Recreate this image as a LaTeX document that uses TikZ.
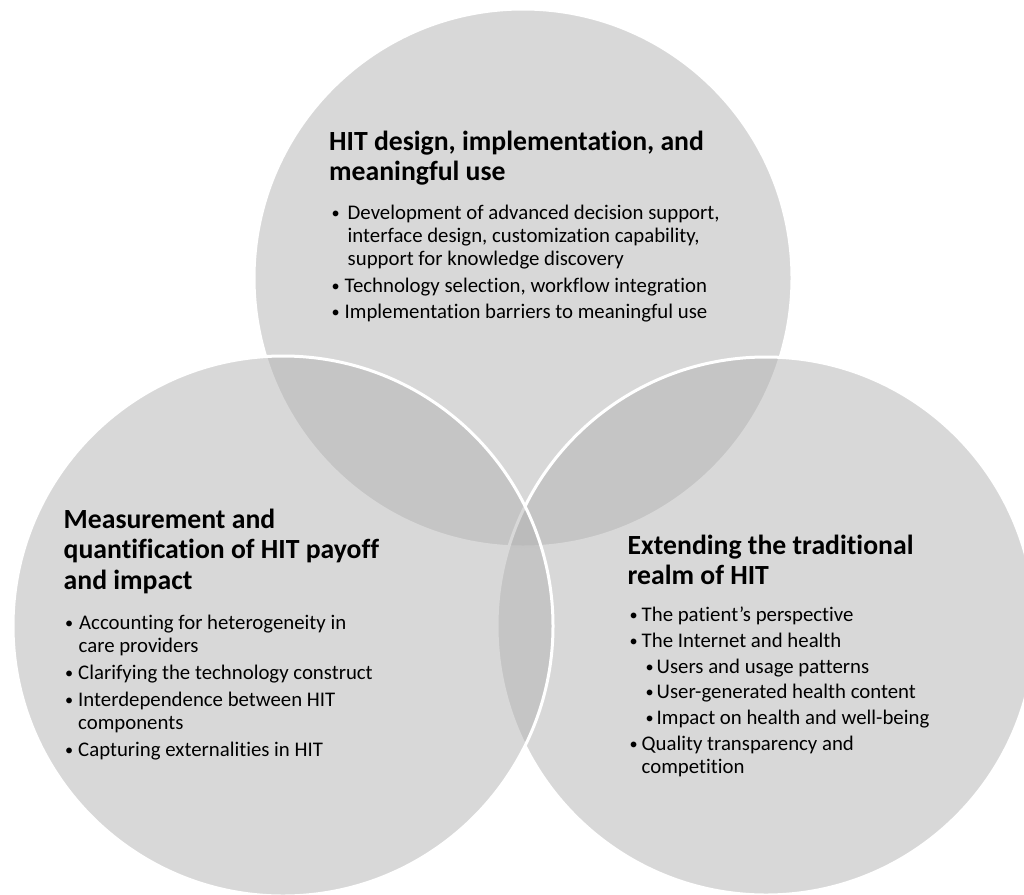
\documentclass[tikz,border=0pt]{standalone}
\usepackage{fontspec}
\usepackage{graphicx}
\setmainfont{Carlito}[Ligatures={NoCommon}]
% small list bullet
\newcommand{\listdot}{\raisebox{0.6pt}{\scalebox{0.78}{•}}}
\begin{document}
\begin{tikzpicture}[x=1pt,y=-1pt,
  venn/.style={fill=vgray,fill opacity=0.5,draw=white,line width=3pt},
  ttl/.style={anchor=base west,inner sep=0pt,font=\bfseries\fontsize{27.7}{30.5}\selectfont},
  txt/.style={anchor=base west,inner sep=0pt,font=\fontsize{20.8}{22.8}\selectfont}]
\definecolor{vgray}{RGB}{178,178,178}
\useasboundingbox (0,0) rectangle (1024,894);
\clip (0,0) rectangle (1024,894);

% circle centres
\coordinate (ctop)   at (523,278);
\coordinate (cright) at (766,626);
\coordinate (cleft)  at (283,626);

% the three sets, painted top, right, left
\path[venn] (ctop) circle[radius=269];
\path[venn] (cright) circle[radius=269];
\path[venn] (cleft) circle[radius=270];

% top set
\node[ttl] (t1) at (329,150) {HIT design, implementation, and};
\node[ttl] (t2) at (329,180.5) {meaningful use};
\node[txt] (t3) at (331.5,219) {\makebox[16pt][l]{\listdot}Development of advanced decision support,};
\node[txt] (t4) at (347.5,242) {interface design, customization capability,};
\node[txt] (t5) at (347.5,265) {support for knowledge discovery};
\node[txt] (t6) at (331.5,292) {\makebox[13pt][l]{\listdot}Technology selection, workflow integration};
\node[txt] (t7) at (331.5,318) {\makebox[13pt][l]{\listdot}Implementation barriers to meaningful use};

% left set
\node[ttl] (l1) at (63.5,528) {Measurement and};
\node[ttl] (l2) at (63.5,558.5) {quantification of HIT payoff};
\node[ttl] (l3) at (63.5,589) {and impact};
\node[txt] (l4) at (65,629.5) {\makebox[14pt][l]{\listdot}Accounting for heterogeneity in};
\node[txt] (l5) at (78.5,652.5) {care providers};
\node[txt] (l6) at (65,679.5) {\makebox[13pt][l]{\listdot}Clarifying the technology construct};
\node[txt] (l7) at (65,706) {\makebox[13pt][l]{\listdot}Interdependence between HIT};
\node[txt] (l8) at (78,729) {components};
\node[txt] (l9) at (65,756) {\makebox[13pt][l]{\listdot}Capturing externalities in HIT};

% right set
\node[ttl] (r1) at (627.5,554.5) {Extending the traditional};
\node[ttl] (r2) at (627.5,584.5) {realm of HIT};
\node[txt] (r3) at (629.5,621.5) {\makebox[12pt][l]{\listdot}The patient’s perspective};
\node[txt] (r4) at (629.5,647.5) {\makebox[12pt][l]{\listdot}The Internet and health};
\node[txt] (r5) at (645.5,673) {\makebox[11pt][l]{\listdot}Users and usage patterns};
\node[txt] (r6) at (645.5,698.5) {\makebox[11pt][l]{\listdot}User-generated health content};
\node[txt] (r7) at (645.5,724) {\makebox[11pt][l]{\listdot}Impact on health and well-being};
\node[txt] (r8) at (629.5,750) {\makebox[12pt][l]{\listdot}Quality transparency and};
\node[txt] (r9) at (641.5,773) {competition};
\end{tikzpicture}
\end{document}
